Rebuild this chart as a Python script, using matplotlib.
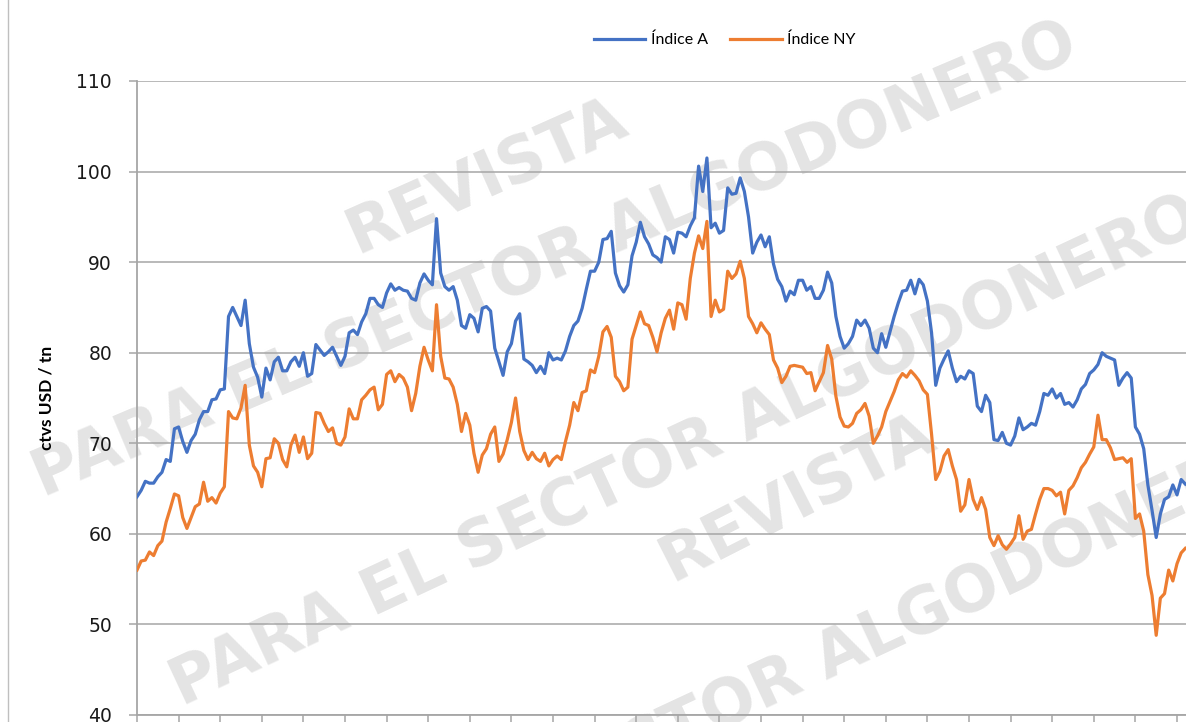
import numpy as np
import matplotlib
matplotlib.use("Agg")
import matplotlib.pyplot as plt
from matplotlib.lines import Line2D

# ==========================================================
# DATA (one sample every 0.1 month)
# ==========================================================

STEP = 0.1

indice_a = [
    64.1, 64.8, 65.8, 65.6, 65.6, 66.3, 66.8, 68.2, 68.0, 71.6,
    71.8, 70.2, 69.0, 70.3, 71.0, 72.6, 73.5, 73.5, 74.8, 74.9,
    75.9, 76.0, 84.0, 85.0, 84.0, 83.0, 85.8, 81.0, 78.4, 77.3,
    75.1, 78.3, 77.0, 79.0, 79.5, 78.0, 78.0, 79.0, 79.5, 78.5,
    80.0, 77.4, 77.7, 80.9, 80.3, 79.7, 80.1, 80.6, 79.6, 78.6,
    79.6, 82.2, 82.5, 82.0, 83.4, 84.3, 86.0, 86.0, 85.3, 85.0,
    86.6, 87.6, 86.9, 87.2, 86.9, 86.8, 86.0, 85.8, 87.7, 88.7,
    88.0, 87.5, 94.8, 88.8, 87.3, 86.9, 87.3, 85.8, 83.0, 82.7,
    84.2, 83.8, 82.3, 84.9, 85.1, 84.6, 80.5, 79.0, 77.5, 80.1,
    81.0, 83.5, 84.3, 79.3, 79.0, 78.6, 77.8, 78.5, 77.7, 80.0,
    79.2, 79.4, 79.2, 80.2, 81.8, 83.0, 83.5, 84.9, 87.0, 89.0,
    89.0, 90.0, 92.5, 92.6, 93.4, 88.8, 87.4, 86.7, 87.5, 90.7,
    92.2, 94.4, 92.8, 92.0, 90.8, 90.5, 90.0, 92.8, 92.5, 91.0,
    93.3, 93.2, 92.8, 94.0, 94.9, 100.6, 97.8, 101.5, 93.8, 94.3,
    93.2, 93.5, 98.2, 97.5, 97.6, 99.3, 97.8, 95.0, 91.0, 92.2,
    93.0, 91.7, 92.8, 89.8, 88.1, 87.3, 85.7, 86.8, 86.4, 88.0,
    88.0, 86.9, 87.3, 86.0, 86.0, 86.9, 88.9, 87.7, 84.0, 81.8,
    80.5, 81.0, 81.8, 83.6, 83.0, 83.6, 82.7, 80.5, 80.0, 82.1,
    80.6, 82.3, 84.0, 85.5, 86.8, 86.9, 88.0, 86.5, 88.1, 87.5,
    85.7, 82.2, 76.4, 78.3, 79.3, 80.2, 78.3, 76.8, 77.4, 77.1,
    78.0, 77.7, 74.1, 73.5, 75.3, 74.5, 70.4, 70.3, 71.2, 70.0,
    69.8, 70.8, 72.8, 71.5, 71.8, 72.2, 72.0, 73.5, 75.5, 75.3,
    76.0, 75.0, 75.5, 74.3, 74.5, 74.0, 74.8, 76.0, 76.5, 77.7,
    78.1, 78.7, 80.0, 79.6, 79.4, 79.2, 76.4, 77.2, 77.8, 77.2,
    71.8, 71.0, 69.4, 65.4, 62.6, 59.6, 62.2, 63.8, 64.1, 65.4,
    64.3, 66.0, 65.5,
]

indice_ny = [
    56.0, 57.0, 57.1, 58.0, 57.6, 58.7, 59.2, 61.3, 62.8, 64.4,
    64.2, 61.8, 60.6, 61.8, 63.0, 63.3, 65.7, 63.6, 64.0, 63.4,
    64.5, 65.2, 73.5, 72.8, 72.7, 73.9, 76.4, 69.8, 67.5, 66.8,
    65.2, 68.3, 68.4, 70.5, 70.0, 68.2, 67.4, 69.8, 70.9, 69.0,
    70.7, 68.3, 68.9, 73.4, 73.3, 72.2, 71.3, 71.7, 70.0, 69.8,
    70.7, 73.8, 72.7, 72.7, 74.8, 75.3, 75.9, 76.2, 73.7, 74.3,
    77.6, 78.0, 76.8, 77.6, 77.2, 76.2, 73.6, 75.5, 78.5, 80.6,
    79.2, 78.0, 85.3, 79.6, 77.2, 77.1, 76.2, 74.3, 71.3, 73.3,
    72.0, 68.9, 66.8, 68.7, 69.4, 71.0, 71.8, 68.0, 68.8, 70.4,
    72.3, 75.0, 71.3, 69.2, 68.2, 69.0, 68.3, 68.0, 68.9, 67.5,
    68.2, 68.6, 68.2, 70.2, 72.0, 74.5, 73.6, 75.6, 75.8, 78.1,
    77.8, 79.6, 82.3, 82.9, 81.7, 77.4, 76.8, 75.8, 76.2, 81.5,
    83.0, 84.5, 83.2, 83.0, 81.7, 80.1, 82.2, 83.8, 84.7, 82.6,
    85.5, 85.3, 83.7, 88.2, 91.0, 92.9, 91.5, 94.5, 84.0, 85.8,
    84.5, 84.8, 89.0, 88.2, 88.7, 90.1, 88.2, 84.0, 83.2, 82.2,
    83.3, 82.6, 82.0, 79.2, 78.3, 76.7, 77.4, 78.5, 78.6, 78.5,
    78.4, 77.7, 77.8, 75.8, 76.8, 77.8, 80.8, 79.3, 75.2, 72.9,
    71.9, 71.8, 72.2, 73.3, 73.7, 74.4, 73.0, 70.0, 70.8, 71.8,
    73.5, 74.6, 75.7, 77.0, 77.7, 77.3, 78.0, 77.5, 76.9, 75.9,
    75.4, 71.0, 66.0, 66.9, 68.6, 69.3, 67.5, 66.0, 62.5, 63.2,
    66.0, 63.8, 62.7, 64.0, 62.7, 59.6, 58.7, 59.8, 58.8, 58.3,
    58.9, 59.6, 62.0, 59.4, 60.3, 60.5, 62.2, 63.8, 65.0, 65.0,
    64.8, 64.2, 64.6, 62.2, 64.8, 65.3, 66.2, 67.3, 67.9, 68.8,
    69.6, 73.1, 70.4, 70.4, 69.5, 68.2, 68.3, 68.4, 67.9, 68.3,
    61.7, 62.2, 60.3, 55.5, 53.2, 48.8, 52.9, 53.4, 56.0, 54.8,
    56.7, 57.9, 58.4,
]

months = np.arange(len(indice_a)) * STEP

Y_TICKS = [40, 50, 60, 70, 80, 90, 100, 110]

WATERMARK = [
    ("REVISTA", 0.410, 0.755, 24),
    ("PARA EL SECTOR ALGODONERO", 0.468, 0.640, 23),
    ("REVISTA", 0.672, 0.310, 27),
    ("PARA EL SECTOR ALGODONERO", 0.578, 0.375, 25),
    ("PARA EL SECTOR ALGODONERO", 0.645, 0.045, 25),
]

# ==========================================================
# FIGURE
# ==========================================================

W, H = 1186, 722
fig = plt.figure(figsize=(W / 100, H / 100), dpi=100)

ax = fig.add_axes([137 / W, 7 / H, 1 - 137 / W, 634 / H])
ax.set_facecolor("none")

# watermark behind everything
for txt, x, y, rot in WATERMARK:
    fig.text(
        x, y, txt,
        fontsize=46,
        fontweight="bold",
        color="#e4e4e4",
        rotation=rot,
        rotation_mode="anchor",
        ha="center",
        va="center",
        zorder=-5,
        family="DejaVu Sans",
    )

# chart area border on the left
fig.add_artist(Line2D([8 / W, 8 / W], [0, 1],
                      transform=fig.transFigure,
                      color="#bfbfbf", lw=1))

ax.plot(months, indice_a, color="#4472C4", lw=2.3, label="Índice A",
        solid_joinstyle="round", zorder=3)
ax.plot(months, indice_ny, color="#ED7D31", lw=2.3, label="Índice NY",
        solid_joinstyle="round", zorder=3)

ax.set_xlim(0, (W - 137) / 41.6)
ax.set_ylim(40, 110)

ax.set_yticks(Y_TICKS)
ax.set_xticks(np.arange(0, 26))
ax.set_xticklabels([])

ax.grid(axis="y", color="#a6a6a6", lw=1.1, zorder=0)
ax.set_axisbelow(True)

for side in ["top", "right"]:
    ax.spines[side].set_visible(False)
for side in ["left", "bottom"]:
    ax.spines[side].set_color("#a6a6a6")
    ax.spines[side].set_linewidth(1.3)

ax.tick_params(axis="y", length=6, width=1.1, color="#a6a6a6",
               pad=12, labelsize=13.5, labelcolor="#1a1a1a")
ax.tick_params(axis="x", length=6, width=1.1, color="#a6a6a6",
               direction="out")

ax.set_ylabel("ctvs USD / tn", fontsize=12.5, fontweight="bold",
              family="Lato", labelpad=16)

ax.legend(
    loc="center",
    bbox_to_anchor=(725 / W, 1 - 40 / H),
    bbox_transform=fig.transFigure,
    ncol=2,
    frameon=False,
    prop={"family": "Lato", "size": 11.5},
    handlelength=3.2,
    handletextpad=0.35,
    columnspacing=1.4,
)

fig.savefig("out.png", dpi=100)
